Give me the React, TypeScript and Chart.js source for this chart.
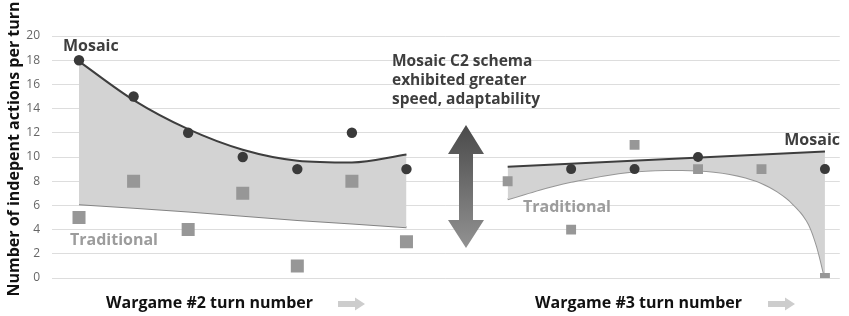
import React, { useEffect, useRef } from 'react';
import { Chart, registerables } from 'chart.js';
Chart.register(...registerables);

// ---- Wargame #2 (left panel) ----
const leftTurns = [1, 2, 3, 4, 5, 6, 7];
const leftMosaic = [18, 15, 12, 10, 9, 12, 9];
const leftTraditional = [5, 8, 4, 7, 1, 8, 3];
const leftMosaicTrend = [17.9, 14.7, 12.3, 10.6, 9.7, 9.55, 10.2];
const leftTraditionalTrend = [6.1, 5.8, 5.5, 5.15, 4.8, 4.5, 4.2];

// ---- Wargame #3 (right panel) ----
const rightTurns = [1, 2, 3, 4, 5, 6];
const rightTraditional = [8, 4, 11, 9, 9, 0];
const rightMosaicTurns = [2, 3, 4, 6];
const rightMosaic = [9, 9, 10, 9];
const rightMosaicTrendTurns = [1, 6];
const rightMosaicTrend = [9.2, 10.45];
const rightTradTrendTurns = [1, 1.25, 1.5, 1.75, 2, 2.25, 2.5, 2.75, 3, 3.25, 3.5, 3.75, 4, 4.25, 4.5, 4.75, 5, 5.25, 5.5, 5.75, 5.875, 6];
const rightTraditionalTrend = [6.5, 6.9, 7.3, 7.65, 7.95, 8.2, 8.45, 8.65, 8.8, 8.88, 8.92, 8.92, 8.88, 8.78, 8.6, 8.3, 7.85, 7.15, 6.1, 4.4, 2.6, 0];

// ---- axis / text ----
const yMin = 0;
const yMax = 20;
const yStep = 2;
const yTitle = 'Number of indepent actions per turn';
const xTitleLeft = 'Wargame #2 turn number';
const xTitleRight = 'Wargame #3 turn number';
const seriesNames = ['Mosaic', 'Traditional'];
const calloutLines = ['Mosaic C2 schema', 'exhibited greater', 'speed, adaptability'];

const zip = (xs: number[], ys: number[]) => xs.map((x, i) => ({ x, y: ys[i] }));

const FONT = '"Open Sans", "DejaVu Sans", sans-serif';
const DARK = '#3e3e3e';
const MID = '#969696';
const FILL = '#d3d3d3';

const overlayPlugin = {
  id: 'overlay',
  afterDraw(chart: any) {
    const ctx: CanvasRenderingContext2D = chart.ctx;
    ctx.save();
    ctx.textBaseline = 'alphabetic';

    // series labels
    ctx.font = `bold 16px ${FONT}`;
    ctx.textAlign = 'left';
    ctx.fillStyle = DARK;
    ctx.fillText(seriesNames[0], 63, 51);
    ctx.fillStyle = '#9c9c9c';
    ctx.fillText(seriesNames[1], 70, 245);
    ctx.fillText(seriesNames[1], 523, 212);
    ctx.fillStyle = DARK;
    ctx.textAlign = 'right';
    ctx.fillText(seriesNames[0], 840, 145);

    // callout
    ctx.textAlign = 'left';
    ctx.font = `bold 15.5px ${FONT}`;
    ctx.fillStyle = DARK;
    calloutLines.forEach((s, i) => ctx.fillText(s, 392, 66 + i * 19));

    // double arrow
    const g = ctx.createLinearGradient(0, 125, 0, 248);
    g.addColorStop(0, '#4a4a4a');
    g.addColorStop(1, '#929292');
    ctx.fillStyle = g;
    const cx = 466;
    ctx.beginPath();
    ctx.moveTo(cx, 125);
    ctx.lineTo(cx + 18, 154);
    ctx.lineTo(cx + 7, 154);
    ctx.lineTo(cx + 7, 220);
    ctx.lineTo(cx + 18, 220);
    ctx.lineTo(cx, 248);
    ctx.lineTo(cx - 18, 220);
    ctx.lineTo(cx - 7, 220);
    ctx.lineTo(cx - 7, 154);
    ctx.lineTo(cx - 18, 154);
    ctx.closePath();
    ctx.fill();

    // x titles
    ctx.font = `bold 16px ${FONT}`;
    ctx.fillStyle = '#111111';
    ctx.textAlign = 'left';
    ctx.fillText(xTitleLeft, 106, 308);
    ctx.fillText(xTitleRight, 535, 308);

    // small right arrows
    const smallArrow = (x0: number, yc: number) => {
      ctx.fillStyle = '#cdcdcd';
      ctx.beginPath();
      ctx.moveTo(x0, yc - 3);
      ctx.lineTo(x0 + 17, yc - 3);
      ctx.lineTo(x0 + 17, yc - 6.5);
      ctx.lineTo(x0 + 27, yc);
      ctx.lineTo(x0 + 17, yc + 6.5);
      ctx.lineTo(x0 + 17, yc + 3);
      ctx.lineTo(x0, yc + 3);
      ctx.closePath();
      ctx.fill();
    };
    smallArrow(338, 304);
    smallArrow(768, 304);

    // y title
    ctx.translate(14, 149);
    ctx.rotate(-Math.PI / 2);
    ctx.textAlign = 'center';
    ctx.textBaseline = 'middle';
    ctx.font = `bold 16px ${FONT}`;
    ctx.fillStyle = '#111111';
    ctx.fillText(yTitle, 0, 0);

    ctx.restore();
  },
};

export default function App() {
  const ref = useRef<HTMLCanvasElement | null>(null);

  useEffect(() => {
    if (!ref.current) return;
    const chart = new Chart(ref.current, {
      type: 'scatter',
      data: {
        datasets: [
          // points (top)
          {
            data: zip(leftTurns, leftMosaic),
            xAxisID: 'x',
            pointStyle: 'circle',
            pointRadius: 5.2,
            backgroundColor: '#3a3a3a',
            borderWidth: 0,
            order: 0,
          },
          {
            data: zip(leftTurns, leftTraditional),
            xAxisID: 'x',
            pointStyle: 'rect',
            pointRadius: 9.2,
            backgroundColor: '#979797',
            borderWidth: 0,
            order: 0,
          },
          {
            data: zip(rightMosaicTurns, rightMosaic),
            xAxisID: 'xR',
            pointStyle: 'circle',
            pointRadius: 5,
            backgroundColor: '#3a3a3a',
            borderWidth: 0,
            order: 0,
          },
          {
            data: zip(rightTurns, rightTraditional),
            xAxisID: 'xR',
            pointStyle: 'rect',
            pointRadius: 7,
            backgroundColor: '#979797',
            borderWidth: 0,
            order: 0,
          },
          // trend lines
          {
            data: zip(leftTurns, leftMosaicTrend),
            xAxisID: 'x',
            showLine: true,
            pointRadius: 0,
            borderColor: DARK,
            borderWidth: 2,
            cubicInterpolationMode: 'monotone',
            fill: { target: 5 },
            backgroundColor: FILL,
            order: 1,
          } as any,
          {
            data: zip(leftTurns, leftTraditionalTrend),
            xAxisID: 'x',
            showLine: true,
            pointRadius: 0,
            borderColor: '#838383',
            borderWidth: 2,
            fill: false,
            order: 1,
          },
          {
            data: zip(rightMosaicTrendTurns, rightMosaicTrend),
            xAxisID: 'xR',
            showLine: true,
            pointRadius: 0,
            borderColor: DARK,
            borderWidth: 2,
            fill: { target: 7 },
            backgroundColor: FILL,
            order: 1,
          } as any,
          {
            data: zip(rightTradTrendTurns, rightTraditionalTrend),
            xAxisID: 'xR',
            showLine: true,
            pointRadius: 0,
            borderColor: MID,
            borderWidth: 2,
            cubicInterpolationMode: 'monotone',
            fill: false,
            order: 1,
          } as any,
        ],
      },
      options: {
        animation: false,
        responsive: true,
        maintainAspectRatio: false,
        events: [],
        layout: { padding: { top: 36, bottom: 38, left: 0, right: 0 } },
        plugins: {
          legend: { display: false },
          tooltip: { enabled: false },
        },
        scales: {
          x: { type: 'linear', min: 0.505, max: 14.94, display: false },
          xR: { type: 'linear', axis: 'x', min: -6.18, max: 6.234, display: false },
          y: {
            type: 'linear',
            min: yMin,
            max: yMax,
            ticks: {
              stepSize: yStep,
              padding: 12,
              color: '#666666',
              font: { family: FONT, size: 12 },
            },
            grid: { color: '#dddddd', lineWidth: 1, drawTicks: false },
            border: { display: false },
            afterFit: (scale: any) => {
              scale.width = 52;
            },
          },
        },
      } as any,
      plugins: [overlayPlugin],
    });
    return () => chart.destroy();
  }, []);

  return (
    <div style={{ position: 'fixed', left: 0, top: 0, width: 849, height: 316, background: '#ffffff' }}>
      <canvas ref={ref} />
    </div>
  );
}
